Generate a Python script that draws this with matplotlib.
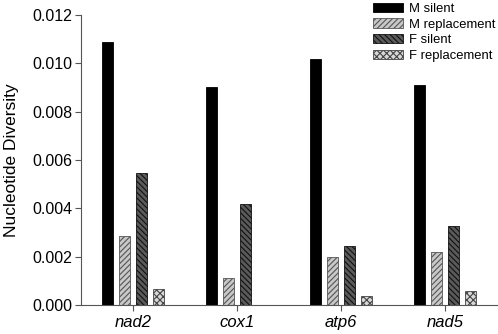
import matplotlib.pyplot as plt
import numpy as np

plt.rcParams['font.family'] = ['Liberation Sans', 'DejaVu Sans']
plt.rcParams['hatch.linewidth'] = 0.8

genes = ["nad2", "cox1", "atp6", "nad5"]
series = ["M silent", "M replacement", "F silent", "F replacement"]

m_silent = [0.01087, 0.00901, 0.01020, 0.00910]
m_repl = [0.00286, 0.00110, 0.00200, 0.00218]
f_silent = [0.00546, 0.00419, 0.00245, 0.00327]
f_repl = [0.00066, 0.0, 0.00038, 0.00058]

values = [m_silent, m_repl, f_silent, f_repl]
faces = ["black", "#c8c8c8", "#5a5a5a", "#d8d8d8"]
edges = ["black", "#555555", "#111111", "#444444"]
hatches = [None, "//////", "\\\\\\\\\\\\", "xxxxx"]

fig = plt.figure(figsize=(4.98, 3.34), dpi=100)
ax = fig.add_axes([0.1627, 0.0868, 0.835, 0.868])

x = np.arange(len(genes))
width = 0.106
step = 0.164
for i, (vals, name) in enumerate(zip(values, series)):
    ax.bar(x + (i - 1.5) * step, vals, width, color=faces[i], edgecolor=edges[i],
           hatch=hatches[i], linewidth=0.6, label=name)

ax.set_xlim(-0.5, 3.5)
ax.set_ylim(0, 0.012)
ax.set_yticks(np.arange(0, 0.0121, 0.002))
ax.set_yticklabels([f"{v:.3f}" for v in np.arange(0, 0.0121, 0.002)])
ax.set_xticks(x)
ax.set_xticklabels(genes, style="italic", fontsize=12)
ax.tick_params(axis='y', labelsize=11.5, length=4, width=0.8, color="#555555", pad=2)
ax.tick_params(axis='x', length=4, width=0.8, color="#555555", pad=3)
ax.set_ylabel("Nucleotide Diversity", fontsize=12.5, labelpad=10)

for s in ["top", "right"]:
    ax.spines[s].set_visible(False)
for s in ["left", "bottom"]:
    ax.spines[s].set_color("#555555")
    ax.spines[s].set_linewidth(0.8)

ax.legend(loc="upper right", bbox_to_anchor=(1.0, 1.0), bbox_transform=fig.transFigure,
          frameon=False, fontsize=9.4, handlelength=2.3, handleheight=0.7,
          handletextpad=0.45, labelspacing=0.28, borderaxespad=0.0, borderpad=0.2)

fig.savefig("out.png", dpi=100)
